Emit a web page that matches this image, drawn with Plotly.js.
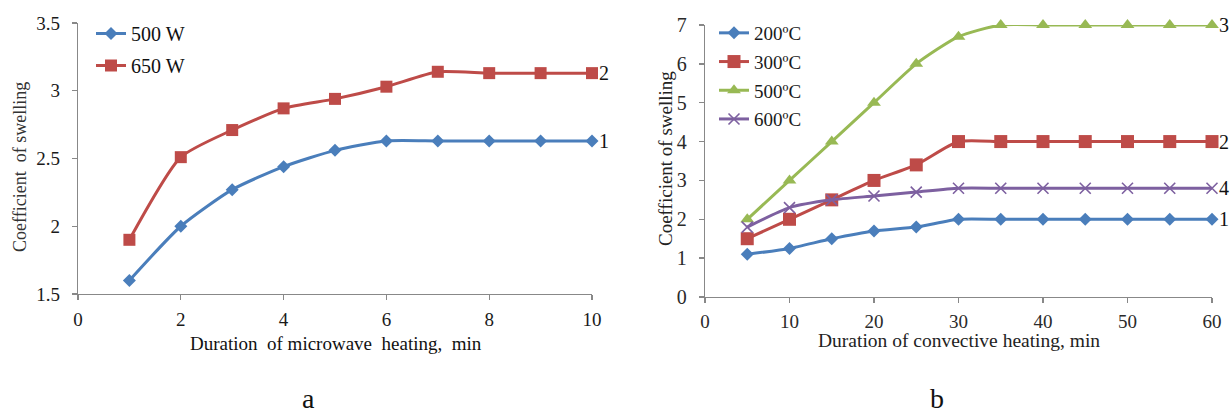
<!DOCTYPE html>
<html>
<head>
<meta charset="utf-8">
<script src="https://cdn.plot.ly/plotly-3.0.1.min.js"></script>
<style>html,body{margin:0;padding:0;background:#fff;}#chart{width:1231px;height:416px;}</style>
</head>
<body>
<div id="chart"></div>
<script>
// Panel a: microwave heating
const timeA = [1, 2, 3, 4, 5, 6, 7, 8, 9, 10];
const w500 = [1.6, 2.0, 2.27, 2.44, 2.56, 2.63, 2.63, 2.63, 2.63, 2.63];
const w650 = [1.9, 2.51, 2.71, 2.87, 2.94, 3.03, 3.14, 3.13, 3.13, 3.13];
// Panel b: convective heating
const timeB = [5, 10, 15, 20, 25, 30, 35, 40, 45, 50, 55, 60];
const c200 = [1.1, 1.25, 1.5, 1.7, 1.8, 2.0, 2.0, 2.0, 2.0, 2.0, 2.0, 2.0];
const c300 = [1.5, 2.0, 2.5, 3.0, 3.4, 4.0, 4.0, 4.0, 4.0, 4.0, 4.0, 4.0];
const c500 = [2.0, 3.0, 4.0, 5.0, 6.0, 6.7, 7.0, 7.0, 7.0, 7.0, 7.0, 7.0];
const c600 = [1.8, 2.3, 2.5, 2.6, 2.7, 2.8, 2.8, 2.8, 2.8, 2.8, 2.8, 2.8];
const namesA = ['500 W', '650 W'];
const namesB = ['200ºC', '300ºC', '500ºC', '600ºC'];
const ticksA = [1.5, 2, 2.5, 3, 3.5];
const tickTextA = ['1.5', '2', '2.5', '3', '3.5'];

const BLUE = '#4a7ebb', RED = '#be4b48', GREEN = '#98b954', PURPLE = '#7d60a0';
const serif = "'Liberation Serif'";

function tr(x, y, name, color, sym, size, xa, ya, leg) {
  return {
    x: x, y: y, name: name, type: 'scatter', mode: 'lines+markers',
    xaxis: xa, yaxis: ya, legend: leg, legendgroup: name, cliponaxis: false,
    line: {color: color, width: 3, shape: 'spline', smoothing: 0.6},
    marker: {color: color, symbol: sym, size: size, line: {color: color, width: sym === 'x-thin' ? 1.6 : 0}}
  };
}

const data = [
  tr(timeA, w500, namesA[0], BLUE, 'diamond', 10, 'x', 'y', 'legend'),
  tr(timeA, w650, namesA[1], RED, 'square', 12, 'x', 'y', 'legend'),
  tr(timeB, c200, namesB[0], BLUE, 'diamond', 10, 'x2', 'y2', 'legend2'),
  tr(timeB, c300, namesB[1], RED, 'square', 13, 'x2', 'y2', 'legend2'),
  tr(timeB, c500, namesB[2], GREEN, 'triangle-up', 12, 'x2', 'y2', 'legend2'),
  tr(timeB, c600, namesB[3], PURPLE, 'x-thin', 11, 'x2', 'y2', 'legend2')
];

const axBase = {
  showgrid: false, zeroline: false, showline: true, linecolor: '#888', linewidth: 1.3,
  ticks: 'outside', ticklen: 5, tickcolor: '#888', tickwidth: 1.3,
  tickfont: {family: serif, size: 19, color: '#1a1a1a'}
};

function ann(text, x, y, opts) {
  return Object.assign({text: text, x: x, y: y, xref: 'paper', yref: 'paper', showarrow: false,
    font: {family: serif, size: 19, color: '#111'}, xanchor: 'center', yanchor: 'middle'}, opts || {});
}
function endLabel(text, x, y, xa, ya) {
  return {text: text, x: x, y: y, xref: xa, yref: ya, xshift: 12, showarrow: false,
    font: {family: serif, size: 20, color: '#111'}};
}

const W = 1231, H = 416;
const px = v => v / W, py = v => 1 - v / H;

const layout = {
  width: W, height: H, paper_bgcolor: '#fff', plot_bgcolor: 'rgba(0,0,0,0)',
  margin: {l: 0, r: 0, t: 0, b: 0},
  font: {family: serif},
  showlegend: true,
  xaxis: Object.assign({}, axBase, {domain: [px(78), px(592)], range: [0, 10], tickvals: [0, 2, 4, 6, 8, 10], anchor: 'y', ticklabelstandoff: 3}),
  yaxis: Object.assign({}, axBase, {domain: [1 - 294 / H, 1 - 23 / H], range: [1.5, 3.5], tickvals: ticksA, ticktext: tickTextA, anchor: 'x', ticklabelstandoff: 8}),
  xaxis2: Object.assign({}, axBase, {domain: [px(705), px(1212)], range: [0, 60], dtick: 10, anchor: 'y2', ticklabelstandoff: 2, tickfont: {family: serif, size: 19, color: '#2a2a2a'}}),
  yaxis2: Object.assign({}, axBase, {domain: [1 - 297 / H, 1 - 25 / H], range: [0, 7], dtick: 1, anchor: 'x2', ticklabelstandoff: 8, tickfont: {family: serif, size: 20, color: '#2a2a2a'}}),
  legend: {x: px(91), y: py(14), xanchor: 'left', yanchor: 'top', bgcolor: 'rgba(0,0,0,0)',
    font: {family: serif, size: 20, color: '#111'}, itemwidth: 30, tracegroupgap: 3},
  legend2: {x: px(714), y: py(14), xanchor: 'left', yanchor: 'top', bgcolor: 'rgba(0,0,0,0)',
    font: {family: serif, size: 19, color: '#1a1a1a'}, itemwidth: 30, tracegroupgap: 1},
  annotations: [
    ann('Coefficient  of swelling', px(20), py(167), {textangle: -90, font: {family: serif, size: 18, color: '#333'}}),
    ann('Duration  of microwave  heating,  min', px(336), py(343), {font: {family: serif, size: 19, color: '#111'}}),
    ann('Coefficient of swelling', px(665), py(158), {textangle: -90, font: {family: serif, size: 19, color: '#222'}}),
    ann('Duration of convective heating, min', px(959), py(340), {font: {family: serif, size: 19.5, color: '#222'}}),
    ann('a', px(308), 0, {yanchor: 'bottom', font: {family: serif, size: 28, color: '#111'}}),
    ann('b', px(937), 0, {yanchor: 'bottom', font: {family: serif, size: 28, color: '#111'}}),
    endLabel('2', timeA[9], w650[9], 'x', 'y'),
    endLabel('1', timeA[9], w500[9], 'x', 'y'),
    endLabel('3', timeB[11], c500[11], 'x2', 'y2'),
    endLabel('2', timeB[11], c300[11], 'x2', 'y2'),
    endLabel('4', timeB[11], c600[11], 'x2', 'y2'),
    endLabel('1', timeB[11], c200[11], 'x2', 'y2')
  ]
};

Plotly.newPlot('chart', data, layout, {displayModeBar: false, staticPlot: true});
</script>
</body>
</html>
